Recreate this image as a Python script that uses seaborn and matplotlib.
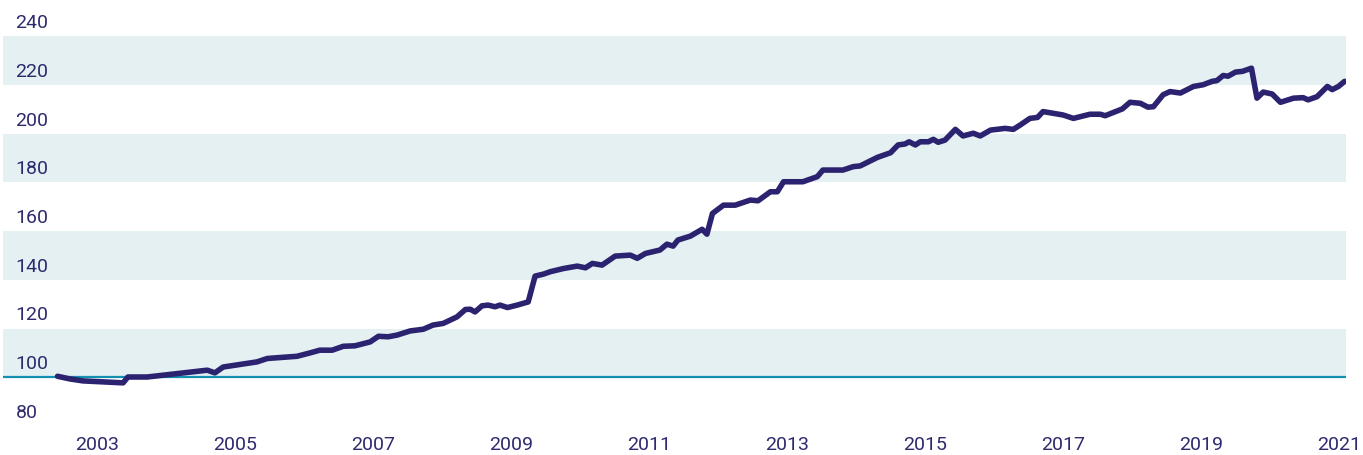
import matplotlib
matplotlib.use("Agg")
import matplotlib.pyplot as plt
import matplotlib.transforms as mtransforms
import pandas as pd
import seaborn as sns

# values (decimal year, index level)
years = [
    2002.43, 2002.61, 2002.80, 2003.09, 2003.38, 2003.45, 2003.73, 2004.25,
    2004.60, 2004.71, 2004.83, 2005.32, 2005.47, 2005.90, 2006.09, 2006.23,
    2006.41, 2006.57, 2006.74, 2006.96, 2007.08, 2007.22, 2007.35, 2007.54,
    2007.73, 2007.87, 2008.02, 2008.22, 2008.34, 2008.41, 2008.48, 2008.58,
    2008.67, 2008.77, 2008.84, 2008.95, 2009.09, 2009.25, 2009.35, 2009.47,
    2009.57, 2009.76, 2009.96, 2010.08, 2010.18, 2010.32, 2010.51, 2010.73,
    2010.83, 2010.95, 2011.16, 2011.26, 2011.35, 2011.42, 2011.60, 2011.77,
    2011.84, 2011.92, 2012.08, 2012.25, 2012.47, 2012.58, 2012.76, 2012.86,
    2012.95, 2013.23, 2013.44, 2013.52, 2013.81, 2013.96, 2014.06, 2014.31,
    2014.50, 2014.61, 2014.71, 2014.77, 2014.86, 2014.93, 2015.05, 2015.12,
    2015.19, 2015.29, 2015.44, 2015.55, 2015.70, 2015.80, 2015.95, 2016.16,
    2016.28, 2016.38, 2016.52, 2016.63, 2016.71, 2017.00, 2017.15, 2017.39,
    2017.54, 2017.61, 2017.76, 2017.86, 2017.97, 2018.12, 2018.23, 2018.31,
    2018.45, 2018.55, 2018.70, 2018.89, 2019.03, 2019.16, 2019.23, 2019.32,
    2019.39, 2019.50, 2019.60, 2019.73, 2019.81, 2019.90, 2020.03, 2020.15,
    2020.34, 2020.48, 2020.55, 2020.68, 2020.83, 2020.90, 2020.99, 2021.08,
]
index_level = [
    100.4, 99.3, 98.5, 98.1, 97.7, 100.1, 100.1, 101.8,
    102.9, 101.8, 104.2, 106.3, 107.7, 108.6, 110.0, 111.1,
    111.1, 112.7, 112.9, 114.5, 116.8, 116.6, 117.3, 119.0,
    119.7, 121.4, 122.1, 124.8, 127.8, 127.9, 126.8, 129.3,
    129.6, 128.9, 129.6, 128.6, 129.6, 130.9, 141.5, 142.3,
    143.3, 144.6, 145.6, 144.9, 146.7, 146.0, 149.7, 150.1,
    148.8, 150.8, 152.2, 154.6, 153.8, 156.3, 157.9, 160.7,
    158.7, 167.2, 170.6, 170.6, 172.7, 172.4, 176.1, 176.1,
    180.2, 180.2, 182.3, 185.0, 185.0, 186.4, 186.7, 190.2,
    192.1, 195.3, 195.7, 196.6, 195.3, 196.6, 196.6, 197.6,
    196.4, 197.3, 201.7, 199.0, 200.1, 199.0, 201.4, 202.1,
    201.7, 203.5, 206.2, 206.6, 209.0, 207.6, 206.2, 207.9,
    207.9, 207.3, 209.0, 210.1, 212.8, 212.4, 210.8, 211.0,
    215.9, 217.2, 216.6, 219.3, 220.0, 221.4, 221.7, 223.8,
    223.5, 225.2, 225.5, 226.8, 214.5, 217.0, 216.2, 212.8,
    214.5, 214.7, 213.8, 215.1, 219.3, 218.0, 219.3, 221.4,
]

y_ticks = [80, 100, 120, 140, 160, 180, 200, 220, 240]
x_ticks = [2003, 2005, 2007, 2009, 2011, 2013, 2015, 2017, 2019, 2021]
bands = [(100, 120), (140, 160), (180, 200), (220, 240)]
baseline = 100

navy = "#2b2370"
teal = "#1490b0"
band_col = "#e4f0f2"
text_col = "#2e2a6e"

sns.set_style("white")
plt.rcParams["font.family"] = ["Roboto", "DejaVu Sans"]

df = pd.DataFrame({"year": years, "index": index_level})

fig = plt.figure(figsize=(13.63, 4.55), dpi=100)
ax = fig.add_axes([3 / 1363, 29 / 455, 1343 / 1363, 390 / 455])

for lo, hi in bands:
    ax.axhspan(lo, hi, color=band_col, lw=0, zorder=0)
ax.axhline(baseline, color=teal, lw=1.6, zorder=1)

sns.lineplot(data=df, x="year", y="index", ax=ax, color=navy, lw=4.0,
             zorder=3, solid_joinstyle="round", solid_capstyle="round")

ax.set_xlim(2001.64, 2021.10)
ax.set_ylim(80, 240)
ax.set_xticks(x_ticks)
ax.set_xticklabels([str(t) for t in x_ticks])
ax.set_yticks(y_ticks)
ax.set_yticklabels([str(t) for t in y_ticks])
ax.set_xlabel("")
ax.set_ylabel("")
for s in ax.spines.values():
    s.set_visible(False)

ax.tick_params(axis="x", length=0, pad=7, labelsize=14, labelcolor=text_col)
ax.tick_params(axis="y", length=0, pad=-9, labelsize=14, labelcolor=text_col)

shift = mtransforms.ScaledTranslation(0, 8 / 100, fig.dpi_scale_trans)
for lab in ax.get_yticklabels():
    lab.set_horizontalalignment("left")
    lab.set_verticalalignment("baseline")
    lab.set_transform(lab.get_transform() + shift)

fig.savefig("out.png", dpi=100, facecolor="white")
